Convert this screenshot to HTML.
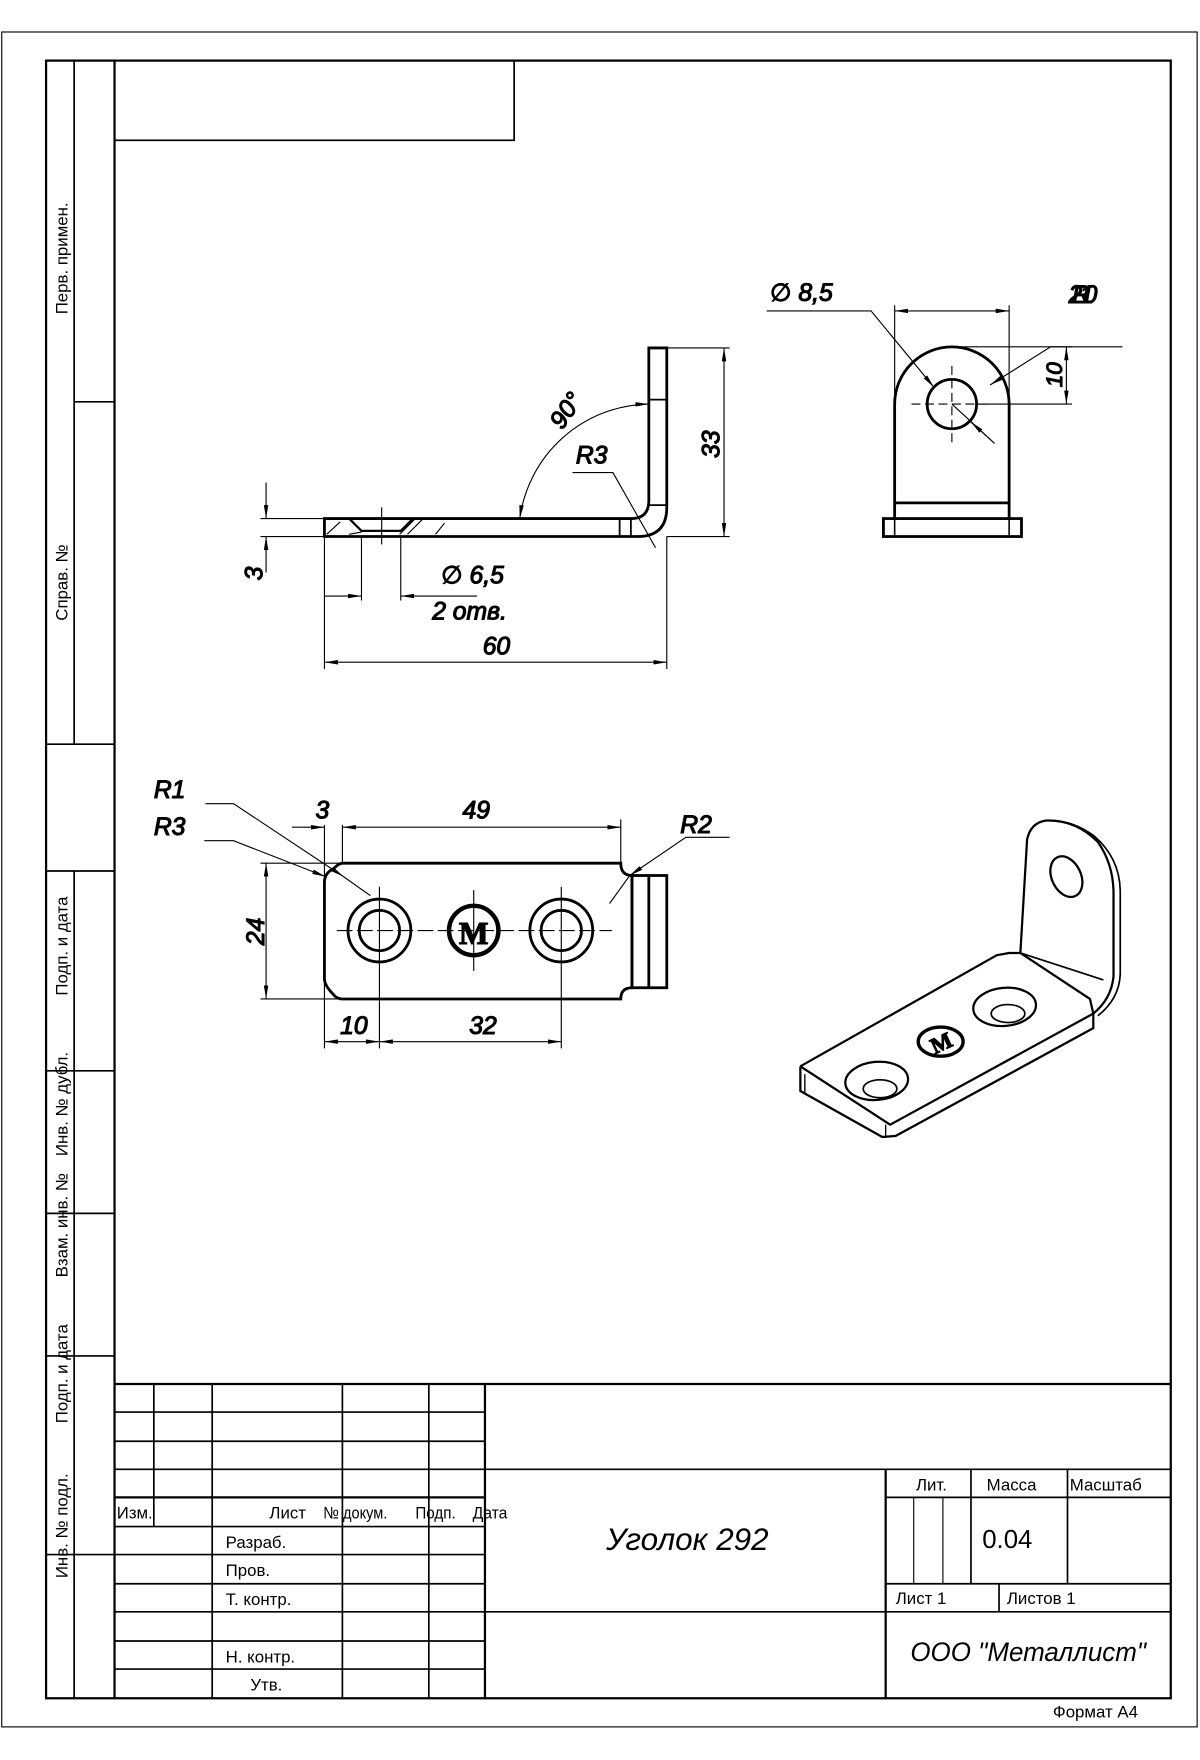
<!DOCTYPE html>
<html><head><meta charset="utf-8"><style>
html,body{margin:0;padding:0;background:#fff}
svg{display:block}
text{font-family:"Liberation Sans","DejaVu Sans",sans-serif;fill:#000;font-weight:normal}
.it{font-style:italic;font-family:"Liberation Sans","DejaVu Sans",sans-serif;font-weight:normal}
</style></head><body>
<svg width="1200" height="1760" viewBox="0 0 1069 1568" xmlns="http://www.w3.org/2000/svg">
<defs>
<marker id="a" viewBox="0 0 12 4" refX="12" refY="2" markerWidth="12" markerHeight="4" markerUnits="userSpaceOnUse" orient="auto-start-reverse"><path d="M0,0 L12,2 L0,4 z" fill="#000"/></marker>
</defs>
<g fill="none" stroke="#000">
<rect x="1.5" y="28.5" width="1065" height="1510" stroke-width="1"/>
<rect x="41" y="54" width="1002" height="1459" stroke-width="2"/>
<line x1="102" y1="54" x2="102" y2="1513" stroke-width="2"/>
<line x1="66" y1="54" x2="66" y2="663" stroke-width="1.5"/>
<line x1="66" y1="358" x2="102" y2="358" stroke-width="1.5"/>
<line x1="41" y1="663" x2="102" y2="663" stroke-width="1.5"/>
<line x1="41" y1="776" x2="102" y2="776" stroke-width="1.5"/>
<line x1="66" y1="776" x2="66" y2="1513" stroke-width="1.5"/>
<line x1="41" y1="954" x2="102" y2="954" stroke-width="1.5"/>
<line x1="41" y1="1081" x2="102" y2="1081" stroke-width="1.5"/>
<line x1="41" y1="1208" x2="102" y2="1208" stroke-width="1.5"/>
<line x1="41" y1="1385" x2="102" y2="1385" stroke-width="1.5"/>
<rect x="102" y="54" width="356" height="71" stroke-width="1.5"/>
<g stroke-width="1.5">
<line x1="102" y1="1233" x2="1043" y2="1233" stroke-width="2"/>
<line x1="137" y1="1233" x2="137" y2="1360"/>
<line x1="189" y1="1233" x2="189" y2="1513"/>
<line x1="305" y1="1233" x2="305" y2="1513"/>
<line x1="382" y1="1233" x2="382" y2="1513"/>
<line x1="432" y1="1233" x2="432" y2="1513" stroke-width="2"/>
<line x1="102" y1="1258" x2="432" y2="1258"/>
<line x1="102" y1="1284" x2="432" y2="1284"/>
<line x1="102" y1="1309" x2="1043" y2="1309"/>
<line x1="102" y1="1334" x2="432" y2="1334" stroke-width="2"/>
<line x1="102" y1="1360" x2="432" y2="1360"/>
<line x1="102" y1="1385" x2="432" y2="1385"/>
<line x1="102" y1="1411" x2="432" y2="1411"/>
<line x1="102" y1="1436" x2="1043" y2="1436"/>
<line x1="102" y1="1462" x2="432" y2="1462"/>
<line x1="102" y1="1487" x2="432" y2="1487"/>
<line x1="789" y1="1309" x2="789" y2="1513" stroke-width="2"/>
<line x1="789" y1="1334" x2="1043" y2="1334"/>
<line x1="789" y1="1411" x2="1043" y2="1411"/>
<line x1="865" y1="1309" x2="865" y2="1411"/>
<line x1="951" y1="1309" x2="951" y2="1411"/>
<line x1="814" y1="1334" x2="814" y2="1411" stroke-width="1"/>
<line x1="840" y1="1334" x2="840" y2="1411" stroke-width="1"/>
<line x1="890" y1="1411" x2="890" y2="1436"/>
</g>

<!-- FRONT VIEW -->
<g stroke-width="2.5">
<path d="M289,462 L562,462 Q578,462 578,446 L578,310 L594,310 L594,452 Q594,478 568,478 L289,478 Z"/>
</g>
<g stroke-width="1.6">
<line x1="578" y1="356" x2="594" y2="356"/>
<line x1="578" y1="450" x2="594" y2="450"/>
<line x1="552" y1="462" x2="552" y2="478"/>
<line x1="562" y1="462" x2="562" y2="478"/>
<path d="M311,462 L322,473 L357,473 L368,462" stroke-width="2"/>
</g>
<g stroke-width="1">
<line x1="291" y1="476" x2="303" y2="465"/>
<line x1="311" y1="476" x2="322" y2="474"/>
<line x1="356" y1="476" x2="369" y2="463"/>
<line x1="363" y1="476" x2="376" y2="463"/>
<line x1="388" y1="476" x2="396" y2="466"/>
<line x1="340" y1="452" x2="340" y2="485"/>
<line x1="322" y1="478" x2="322" y2="535"/>
<line x1="357" y1="478" x2="357" y2="535"/>
<line x1="289" y1="478" x2="289" y2="596"/>
<line x1="594" y1="478" x2="594" y2="596"/>
<line x1="289" y1="590" x2="594" y2="590" marker-start="url(#a)" marker-end="url(#a)"/>
<line x1="289" y1="531" x2="322" y2="531" marker-end="url(#a)"/>
<line x1="425" y1="531" x2="357" y2="531" marker-end="url(#a)"/>
<line x1="232" y1="462" x2="289" y2="462"/>
<line x1="232" y1="478" x2="289" y2="478"/>
<line x1="237" y1="430" x2="237" y2="462" marker-end="url(#a)"/>
<line x1="237" y1="510" x2="237" y2="478" marker-end="url(#a)"/>
<line x1="594" y1="310" x2="650" y2="310"/>
<line x1="594" y1="478" x2="650" y2="478"/>
<line x1="645" y1="310" x2="645" y2="478" marker-start="url(#a)" marker-end="url(#a)"/>
<path d="M578,360 A118,118 0 0 0 463,462" marker-start="url(#a)" marker-end="url(#a)"/>
<polyline points="510,421 546,421 584,488"/>
</g>
<text x="216" y="515" font-size="22" class="it" transform="rotate(-90 226 507)">3</text>
<text x="393" y="520" font-size="22" class="it">∅ 6,5</text>
<text x="385" y="552" font-size="22" class="it">2 отв.</text>
<text x="430" y="583" font-size="22" class="it">60</text>
<text x="513" y="413" font-size="22" class="it">R3</text>
<text x="488" y="385" font-size="22" class="it" transform="rotate(-55 493 372)">90°</text>
<text x="620" y="405" font-size="22" class="it" transform="rotate(-90 632 396)">33</text>

<!-- SIDE VIEW -->
<g stroke-width="2.5">
<path d="M797,462 L797,360 A51,51 0 0 1 899,360 L899,462"/>
<line x1="797" y1="448" x2="899" y2="448"/>
<rect x="787" y="462" width="123" height="16"/>
<circle cx="848" cy="360" r="22"/>
</g>
<g stroke-width="1.4">
<line x1="797" y1="462" x2="797" y2="478"/>
<line x1="899" y1="462" x2="899" y2="478"/>
</g>
<g stroke-width="1">
<line x1="797" y1="272" x2="797" y2="360"/>
<line x1="899" y1="272" x2="899" y2="360"/>
<line x1="797" y1="277" x2="899" y2="277" marker-start="url(#a)" marker-end="url(#a)"/>
<line x1="812" y1="360" x2="884" y2="360" stroke-dasharray="8,4"/>
<line x1="848" y1="326" x2="848" y2="396" stroke-dasharray="8,4"/>
<line x1="848" y1="309" x2="955" y2="309"/>
<line x1="870" y1="360" x2="955" y2="360"/>
<line x1="950" y1="309" x2="950" y2="360" marker-start="url(#a)" marker-end="url(#a)"/>
<polyline points="683,277 776,277 832,345" marker-end="url(#a)"/>
<line x1="848" y1="360" x2="886" y2="395"/>
<line x1="886" y1="395" x2="865" y2="376" marker-end="url(#a)"/>
<polyline points="1000,309 936,309 882,343" marker-end="url(#a)"/>
</g>
<text x="686" y="268" font-size="22" class="it">∅ 8,5</text>
<text x="952" y="270" font-size="22" class="it" letter-spacing="-9">2R10</text>
<text x="928" y="343" font-size="20" class="it" transform="rotate(-90 938 335)">10</text>

<!-- TOP VIEW -->
<g stroke-width="2.5">
<path d="M305,769 L553,769 Q553,780 563,780 L563,880 Q553,880 553,890 L305,890 Q300,890 297,886 Q289,878 289,872 L289,786 Q289,778 297,774 Q302,769 305,769 Z"/>
<rect x="563" y="780" width="31" height="100"/>
<line x1="578" y1="780" x2="578" y2="880"/>
<circle cx="338" cy="829" r="28"/>
<circle cx="338" cy="829" r="18"/>
<circle cx="500" cy="829" r="28"/>
<circle cx="500" cy="829" r="18"/>
<circle cx="422" cy="829" r="22" stroke-width="4"/>
</g>
<text x="422" y="841" font-size="28" font-weight="bold" text-anchor="middle" font-family="Liberation Serif,serif" style="font-weight:bold;font-family:'Liberation Serif',serif">M</text>
<g stroke-width="1">
<line x1="300" y1="829" x2="545" y2="829" stroke-dasharray="14,4"/>
<line x1="338" y1="790" x2="338" y2="934"/>
<line x1="500" y1="790" x2="500" y2="934"/>
<line x1="422" y1="793" x2="422" y2="865"/>
<line x1="289" y1="735" x2="289" y2="934"/>
<line x1="305" y1="735" x2="305" y2="769"/>
<line x1="553" y1="730" x2="553" y2="769"/>
<line x1="305" y1="737" x2="553" y2="737" marker-start="url(#a)" marker-end="url(#a)"/>
<line x1="260" y1="737" x2="289" y2="737" marker-end="url(#a)"/>
<line x1="232" y1="769" x2="305" y2="769"/>
<line x1="232" y1="890" x2="305" y2="890"/>
<line x1="237" y1="769" x2="237" y2="890" marker-start="url(#a)" marker-end="url(#a)"/>
<line x1="289" y1="928" x2="338" y2="928" marker-start="url(#a)" marker-end="url(#a)"/>
<line x1="338" y1="928" x2="500" y2="928" marker-start="url(#a)" marker-end="url(#a)"/>
<polyline points="183,716 208,716 306,781" marker-end="url(#a)"/>
<line x1="330" y1="798" x2="306" y2="781"/>
<polyline points="182,749 208,749 290,781" marker-end="url(#a)"/>
<polyline points="650,746 611,746 561,780" marker-end="url(#a)"/>
<line x1="561" y1="780" x2="543" y2="805"/>
</g>
<text x="137" y="711" font-size="22" class="it">R1</text>
<text x="137" y="744" font-size="22" class="it">R3</text>
<text x="281" y="729" font-size="22" class="it">3</text>
<text x="412" y="729" font-size="22" class="it">49</text>
<text x="606" y="742" font-size="22" class="it">R2</text>
<text x="213" y="840" font-size="22" class="it" transform="rotate(-90 225 830)">24</text>
<text x="303" y="921" font-size="22" class="it">10</text>
<text x="418" y="921" font-size="22" class="it">32</text>

<!-- ISOMETRIC -->
<g stroke-width="2" stroke-linejoin="round">
<path d="M713,950 L793,1002 L974,903 L971,890 L909,849 L915,748 Q918,733 932,731 Q958,730 978,750 Q992,770 992,796 L992,870 Q990,890 974,903"/>
<path d="M713,950 L888,851 L899,849 L909,849"/>
<path d="M713,950 L713,972 L786,1013 L798,1012 L974,916 L974,903"/>
<line x1="717" y1="957" x2="717" y2="975" stroke-width="1.2"/>
<line x1="789" y1="1002" x2="789" y2="1013" stroke-width="1.2"/>
<path d="M909,849 L983,873" stroke-width="1.5"/>
<path d="M932,731 Q955,730 975,745 Q998,765 998,795 L998,868 Q997,890 978,905" stroke-width="1.5"/>
<ellipse cx="950" cy="781" rx="13" ry="19" transform="rotate(-25 950 781)"/>
<ellipse cx="781" cy="963" rx="28" ry="17" transform="rotate(-5 781 963)"/>
<ellipse cx="784" cy="970" rx="15" ry="8" stroke-width="1.5"/>
<ellipse cx="895" cy="897" rx="28" ry="17" transform="rotate(-5 895 897)"/>
<ellipse cx="898" cy="903" rx="15" ry="8" stroke-width="1.5"/>
<ellipse cx="838" cy="928" rx="20" ry="13" stroke-width="3"/>
</g>
<text x="838" y="936" font-size="20" text-anchor="middle" transform="rotate(-25 838 928)" style="font-weight:bold;font-family:'Liberation Serif',serif">M</text>
</g>

<g font-size="15">
<text transform="translate(60,280) rotate(-90)">Перв. примен.</text>
<text transform="translate(60,553) rotate(-90)">Справ. №</text>
<text transform="translate(60,887) rotate(-90)">Подп. и дата</text>
<text transform="translate(60,1030) rotate(-90)">Инв. № дубл.</text>
<text transform="translate(60,1138) rotate(-90)">Взам. инв. №</text>
<text transform="translate(60,1268) rotate(-90)">Подп. и дата</text>
<text transform="translate(60,1406) rotate(-90)">Инв. № подл.</text>
</g>
<g font-size="15">
<text x="104" y="1353" textLength="32" lengthAdjust="spacingAndGlyphs">Изм.</text>
<text x="240" y="1353">Лист</text>
<text x="288" y="1353" textLength="57" lengthAdjust="spacingAndGlyphs">№ докум.</text>
<text x="370" y="1353" textLength="36" lengthAdjust="spacingAndGlyphs">Подп.</text>
<text x="421" y="1353" textLength="31" lengthAdjust="spacingAndGlyphs">Дата</text>
<text x="201" y="1379">Разраб.</text>
<text x="201" y="1404">Пров.</text>
<text x="201" y="1430">Т. контр.</text>
<text x="201" y="1481">Н. контр.</text>
<text x="223" y="1506">Утв.</text>
<text x="816" y="1328">Лит.</text>
<text x="879" y="1328">Масса</text>
<text x="953" y="1328">Масштаб</text>
<text x="798" y="1429">Лист 1</text>
<text x="897" y="1429">Листов 1</text>
<text x="938" y="1530">Формат А4</text>
</g>
<text x="875" y="1379" font-size="23">0.04</text>
<text x="540" y="1381" font-size="28" class="it">Уголок 292</text>
<text x="811" y="1480" font-size="24" class="it" textLength="210" lengthAdjust="spacingAndGlyphs">ООО "Металлист"</text>
</svg>
</body></html>
